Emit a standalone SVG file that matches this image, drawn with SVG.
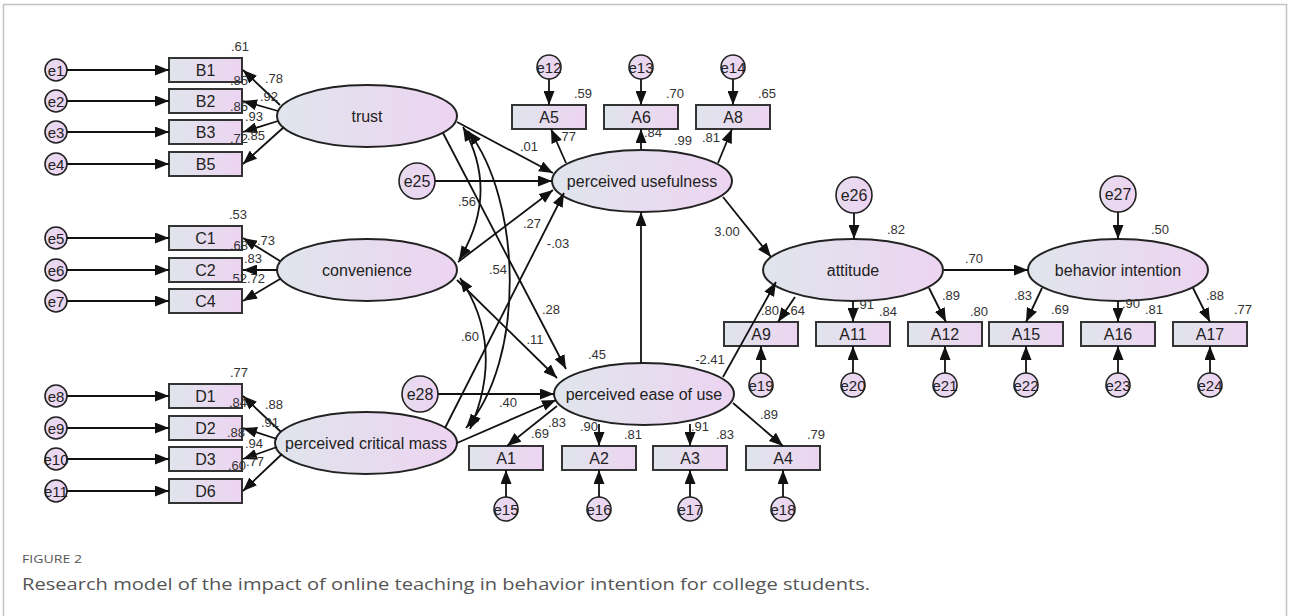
<svg xmlns="http://www.w3.org/2000/svg" width="1290" height="616" viewBox="0 0 1290 616">
<defs>
<linearGradient id="g" x1="0" y1="0" x2="1" y2="0">
<stop offset="0" stop-color="#e0e5ec"/>
<stop offset="1" stop-color="#edd4f1"/>
</linearGradient>
<linearGradient id="gc" x1="0" y1="0" x2="1" y2="0">
<stop offset="0" stop-color="#e6dcef"/>
<stop offset="1" stop-color="#eed3f1"/>
</linearGradient>
<marker id="ah" markerUnits="userSpaceOnUse" markerWidth="15" markerHeight="11" refX="14" refY="5.5" orient="auto-start-reverse">
<path d="M0,0 L14,5.5 L0,11 z" fill="#111"/>
</marker>
<style>
.box{fill:url(#g);stroke:#333;stroke-width:2}
.ell{fill:url(#g);stroke:#222;stroke-width:2}
.err{fill:url(#gc);stroke:#222;stroke-width:1.6}
.lbl{font-family:"Liberation Sans",Arial,sans-serif;font-size:16px;fill:#222;text-anchor:middle}
.el{font-family:"Liberation Sans",Arial,sans-serif;font-size:15px;fill:#222;text-anchor:middle}
.num{font-family:"Liberation Sans",Arial,sans-serif;font-size:13px;fill:#333;text-anchor:middle}
.c line,.c path{stroke:#111;stroke-width:1.8;fill:none;marker-end:url(#ah)}
.c path.cov{marker-start:url(#ah)}
</style>
</defs>
<rect x="0" y="0" width="1290" height="616" fill="#fff"/>
<rect x="3.5" y="4.5" width="1283" height="700" fill="none" stroke="#c4c4c4" stroke-width="1.5"/>

<g id="B1"><rect class="box" x="169" y="58" width="73" height="24"/><text class="lbl" x="205.5" y="76">B1</text></g>
<g id="B2"><rect class="box" x="169" y="89" width="73" height="24"/><text class="lbl" x="205.5" y="107">B2</text></g>
<g id="B3"><rect class="box" x="169" y="120" width="73" height="24"/><text class="lbl" x="205.5" y="138">B3</text></g>
<g id="B5"><rect class="box" x="169" y="152" width="73" height="24"/><text class="lbl" x="205.5" y="170">B5</text></g>
<g id="C1"><rect class="box" x="169" y="226" width="73" height="24"/><text class="lbl" x="205.5" y="244">C1</text></g>
<g id="C2"><rect class="box" x="169" y="258" width="73" height="24"/><text class="lbl" x="205.5" y="276">C2</text></g>
<g id="C4"><rect class="box" x="169" y="289" width="73" height="24"/><text class="lbl" x="205.5" y="307">C4</text></g>
<g id="D1"><rect class="box" x="169" y="384" width="73" height="24"/><text class="lbl" x="205.5" y="402">D1</text></g>
<g id="D2"><rect class="box" x="169" y="416" width="73" height="24"/><text class="lbl" x="205.5" y="434">D2</text></g>
<g id="D3"><rect class="box" x="169" y="447" width="73" height="24"/><text class="lbl" x="205.5" y="465">D3</text></g>
<g id="D6"><rect class="box" x="169" y="479" width="73" height="24"/><text class="lbl" x="205.5" y="497">D6</text></g>

<g id="e1"><circle class="err" cx="56" cy="70" r="11"/><text class="el" x="56" y="75.5">e1</text></g>
<g id="e2"><circle class="err" cx="56" cy="101" r="11"/><text class="el" x="56" y="106.5">e2</text></g>
<g id="e3"><circle class="err" cx="56" cy="132" r="11"/><text class="el" x="56" y="137.5">e3</text></g>
<g id="e4"><circle class="err" cx="56" cy="164" r="11"/><text class="el" x="56" y="169.5">e4</text></g>
<g id="e5"><circle class="err" cx="56" cy="238" r="11"/><text class="el" x="56" y="243.5">e5</text></g>
<g id="e6"><circle class="err" cx="56" cy="270" r="11"/><text class="el" x="56" y="275.5">e6</text></g>
<g id="e7"><circle class="err" cx="56" cy="301" r="11"/><text class="el" x="56" y="306.5">e7</text></g>
<g id="e8"><circle class="err" cx="56" cy="396" r="11"/><text class="el" x="56" y="401.5">e8</text></g>
<g id="e9"><circle class="err" cx="56" cy="428" r="11"/><text class="el" x="56" y="433.5">e9</text></g>
<g id="e10"><circle class="err" cx="56" cy="459" r="11"/><text class="el" x="56" y="464.5">e10</text></g>
<g id="e11"><circle class="err" cx="56" cy="491" r="11"/><text class="el" x="56" y="496.5">e11</text></g>

<g id="trust"><ellipse class="ell" cx="367" cy="116" rx="90" ry="31"/><text class="lbl" x="367" y="121.5">trust</text></g>
<g id="convenience"><ellipse class="ell" cx="367" cy="270" rx="90" ry="31"/><text class="lbl" x="367" y="275.5">convenience</text></g>
<g id="pcm"><ellipse class="ell" cx="366" cy="443" rx="91" ry="31"/><text class="lbl" x="366" y="448.5">perceived critical mass</text></g>
<g id="pu"><ellipse class="ell" cx="642" cy="181" rx="90" ry="31"/><text class="lbl" x="642" y="186.5">perceived usefulness</text></g>
<g id="peou"><ellipse class="ell" cx="644" cy="394" rx="90" ry="31"/><text class="lbl" x="644" y="399.5">perceived ease of use</text></g>
<g id="attitude"><ellipse class="ell" cx="853" cy="270" rx="90" ry="31"/><text class="lbl" x="853" y="275.5">attitude</text></g>
<g id="bi"><ellipse class="ell" cx="1118" cy="270" rx="90" ry="31"/><text class="lbl" x="1118" y="275.5">behavior intention</text></g>

<g id="e25"><circle class="err" cx="417" cy="181" r="18"/><text class="lbl" x="417" y="186.5">e25</text></g>
<g id="e28"><circle class="err" cx="420" cy="394" r="18"/><text class="lbl" x="420" y="399.5">e28</text></g>
<g id="e26"><circle class="err" cx="854" cy="195" r="18"/><text class="lbl" x="854" y="200.5">e26</text></g>
<g id="e27"><circle class="err" cx="1118" cy="194" r="18"/><text class="lbl" x="1118" y="199.5">e27</text></g>

<g id="A5"><rect class="box" x="512" y="105" width="74" height="24"/><text class="lbl" x="549" y="123">A5</text></g>
<g id="A6"><rect class="box" x="604" y="105" width="74" height="24"/><text class="lbl" x="641" y="123">A6</text></g>
<g id="A8"><rect class="box" x="696" y="105" width="74" height="24"/><text class="lbl" x="733" y="123">A8</text></g>
<g id="e12"><circle class="err" cx="549" cy="67" r="12"/><text class="el" x="549" y="72.5">e12</text></g>
<g id="e13"><circle class="err" cx="641" cy="67" r="12"/><text class="el" x="641" y="72.5">e13</text></g>
<g id="e14"><circle class="err" cx="733" cy="67" r="12"/><text class="el" x="733" y="72.5">e14</text></g>

<g id="A1"><rect class="box" x="469" y="446" width="74" height="24"/><text class="lbl" x="506" y="464">A1</text></g>
<g id="A2"><rect class="box" x="562" y="446" width="74" height="24"/><text class="lbl" x="599" y="464">A2</text></g>
<g id="A3"><rect class="box" x="653" y="446" width="74" height="24"/><text class="lbl" x="690" y="464">A3</text></g>
<g id="A4"><rect class="box" x="746" y="446" width="74" height="24"/><text class="lbl" x="783" y="464">A4</text></g>
<g id="e15"><circle class="err" cx="506" cy="509" r="12"/><text class="el" x="506" y="514.5">e15</text></g>
<g id="e16"><circle class="err" cx="599" cy="509" r="12"/><text class="el" x="599" y="514.5">e16</text></g>
<g id="e17"><circle class="err" cx="690" cy="509" r="12"/><text class="el" x="690" y="514.5">e17</text></g>
<g id="e18"><circle class="err" cx="783" cy="509" r="12"/><text class="el" x="783" y="514.5">e18</text></g>

<g id="A9"><rect class="box" x="724" y="322" width="74" height="24"/><text class="lbl" x="761" y="340">A9</text></g>
<g id="A11"><rect class="box" x="816" y="322" width="74" height="24"/><text class="lbl" x="853" y="340">A11</text></g>
<g id="A12"><rect class="box" x="908" y="322" width="74" height="24"/><text class="lbl" x="945" y="340">A12</text></g>
<g id="A15"><rect class="box" x="989" y="322" width="74" height="24"/><text class="lbl" x="1026" y="340">A15</text></g>
<g id="A16"><rect class="box" x="1081" y="322" width="74" height="24"/><text class="lbl" x="1118" y="340">A16</text></g>
<g id="A17"><rect class="box" x="1173" y="322" width="74" height="24"/><text class="lbl" x="1210" y="340">A17</text></g>
<g id="e19"><circle class="err" cx="761" cy="385" r="12"/><text class="el" x="761" y="390.5">e19</text></g>
<g id="e20"><circle class="err" cx="853" cy="385" r="12"/><text class="el" x="853" y="390.5">e20</text></g>
<g id="e21"><circle class="err" cx="945" cy="385" r="12"/><text class="el" x="945" y="390.5">e21</text></g>
<g id="e22"><circle class="err" cx="1026" cy="385" r="12"/><text class="el" x="1026" y="390.5">e22</text></g>
<g id="e23"><circle class="err" cx="1118" cy="385" r="12"/><text class="el" x="1118" y="390.5">e23</text></g>
<g id="e24"><circle class="err" cx="1210" cy="385" r="12"/><text class="el" x="1210" y="390.5">e24</text></g>

<g id="connectors" class="c">
<line x1="67" y1="70" x2="169" y2="70"/>
<line x1="67" y1="101" x2="169" y2="101"/>
<line x1="67" y1="132" x2="169" y2="132"/>
<line x1="67" y1="164" x2="169" y2="164"/>
<line x1="67" y1="238" x2="169" y2="238"/>
<line x1="67" y1="270" x2="169" y2="270"/>
<line x1="67" y1="301" x2="169" y2="301"/>
<line x1="67" y1="396" x2="169" y2="396"/>
<line x1="67" y1="428" x2="169" y2="428"/>
<line x1="67" y1="459" x2="169" y2="459"/>
<line x1="67" y1="491" x2="169" y2="491"/>
<line x1="280" y1="105" x2="243" y2="70"/>
<line x1="278" y1="111" x2="243" y2="101"/>
<line x1="278" y1="121" x2="243" y2="132"/>
<line x1="284" y1="127" x2="243" y2="164"/>
<line x1="280" y1="261" x2="243" y2="238"/>
<line x1="277" y1="270" x2="243" y2="270"/>
<line x1="280" y1="279" x2="243" y2="301"/>
<line x1="281" y1="432" x2="243" y2="396"/>
<line x1="277" y1="439" x2="243" y2="428"/>
<line x1="277" y1="447" x2="243" y2="459"/>
<line x1="282" y1="454" x2="243" y2="491"/>
<line x1="566" y1="163" x2="551" y2="129"/>
<line x1="641" y1="150" x2="641" y2="129"/>
<line x1="718" y1="163" x2="732" y2="129"/>
<line x1="549" y1="79" x2="549" y2="105"/>
<line x1="641" y1="79" x2="641" y2="105"/>
<line x1="733" y1="79" x2="733" y2="105"/>
<line x1="435" y1="181" x2="552" y2="181"/>
<line x1="457" y1="122" x2="553" y2="173"/>
<line x1="443" y1="133" x2="566" y2="369"/>
<line x1="458" y1="262" x2="553" y2="190"/>
<line x1="457" y1="280" x2="557" y2="378"/>
<line x1="445" y1="428" x2="564" y2="193"/>
<line x1="457" y1="443" x2="556" y2="400"/>
<line x1="438" y1="394" x2="554" y2="394"/>
<line x1="641" y1="363" x2="641" y2="212"/>
<line x1="723" y1="197" x2="771" y2="257"/>
<line x1="723" y1="377" x2="776" y2="282"/>
<line x1="944" y1="270" x2="1028" y2="270"/>
<line x1="795" y1="297" x2="778" y2="322"/>
<line x1="853" y1="301" x2="853" y2="322"/>
<line x1="929" y1="288" x2="946" y2="322"/>
<line x1="854" y1="213" x2="854" y2="239"/>
<line x1="761" y1="373" x2="761" y2="346"/>
<line x1="853" y1="373" x2="853" y2="346"/>
<line x1="945" y1="373" x2="945" y2="346"/>
<line x1="1042" y1="288" x2="1026" y2="322"/>
<line x1="1118" y1="301" x2="1118" y2="322"/>
<line x1="1193" y1="288" x2="1210" y2="322"/>
<line x1="1118" y1="212" x2="1118" y2="239"/>
<line x1="1026" y1="373" x2="1026" y2="346"/>
<line x1="1118" y1="373" x2="1118" y2="346"/>
<line x1="1210" y1="373" x2="1210" y2="346"/>
<line x1="557" y1="406" x2="507" y2="446"/>
<line x1="599" y1="424" x2="599" y2="446"/>
<line x1="690" y1="424" x2="690" y2="446"/>
<line x1="733" y1="403" x2="783" y2="446"/>
<line x1="506" y1="497" x2="506" y2="470"/>
<line x1="599" y1="497" x2="599" y2="470"/>
<line x1="690" y1="497" x2="690" y2="470"/>
<line x1="783" y1="497" x2="783" y2="470"/>
<path class="cov" d="M463,127 Q500,193 459,260"/>
<path class="cov" d="M468,131 C522,200 526,360 466,428"/>
<path class="cov" d="M460,278 Q506,347 470,429"/>
</g>

<g id="labels" class="num">
<text x="240" y="51">.61</text>
<text x="274" y="83">.78</text>
<text x="239" y="85">.85</text>
<text x="269" y="101">.92</text>
<text x="239" y="111">.86</text>
<text x="254" y="121">.93</text>
<text x="239" y="143">.72</text>
<text x="256" y="140">.85</text>
<text x="238" y="219">.53</text>
<text x="266" y="245">.73</text>
<text x="239" y="250">.68</text>
<text x="253" y="263">.83</text>
<text x="238" y="283">.52</text>
<text x="256" y="283">.72</text>
<text x="239" y="377">.77</text>
<text x="274" y="409">.88</text>
<text x="238" y="407">.84</text>
<text x="270" y="427">.91</text>
<text x="236" y="437">.88</text>
<text x="254" y="448">.94</text>
<text x="237" y="470">.60</text>
<text x="255" y="466">.77</text>
<text x="529" y="151">.01</text>
<text x="467" y="206">.56</text>
<text x="532" y="228">.27</text>
<text x="558" y="248">-.03</text>
<text x="498" y="274">.54</text>
<text x="551" y="314">.28</text>
<text x="470" y="341">.60</text>
<text x="535" y="344">.11</text>
<text x="508" y="407">.40</text>
<text x="597" y="359">.45</text>
<text x="557" y="427">.83</text>
<text x="540" y="438">.69</text>
<text x="583" y="98">.59</text>
<text x="675" y="98">.70</text>
<text x="767" y="98">.65</text>
<text x="567" y="141">.77</text>
<text x="653" y="137">.84</text>
<text x="683" y="145">.99</text>
<text x="711" y="142">.81</text>
<text x="727" y="236">3.00</text>
<text x="710" y="364">-2.41</text>
<text x="589" y="431">.90</text>
<text x="633" y="439">.81</text>
<text x="700" y="431">.91</text>
<text x="725" y="439">.83</text>
<text x="769" y="419">.89</text>
<text x="816" y="439">.79</text>
<text x="896" y="234">.82</text>
<text x="974" y="263">.70</text>
<text x="770" y="315">.80</text>
<text x="796" y="315">.64</text>
<text x="865" y="309">.91</text>
<text x="888" y="316">.84</text>
<text x="951" y="300">.89</text>
<text x="979" y="316">.80</text>
<text x="1160" y="234">.50</text>
<text x="1023" y="300">.83</text>
<text x="1060" y="314">.69</text>
<text x="1131" y="308">.90</text>
<text x="1154" y="314">.81</text>
<text x="1215" y="300">.88</text>
<text x="1243" y="314">.77</text>
</g>

<g id="caption">
<text x="22" y="563" font-family="'Open Sans','Liberation Sans',sans-serif" font-size="11" fill="#555" textLength="60" lengthAdjust="spacingAndGlyphs">FIGURE 2</text>
<text x="22" y="590" font-family="'Open Sans','Liberation Sans',sans-serif" font-size="17" fill="#555" textLength="848" lengthAdjust="spacingAndGlyphs">Research model of the impact of online teaching in behavior intention for college students.</text>
</g>
</svg>
